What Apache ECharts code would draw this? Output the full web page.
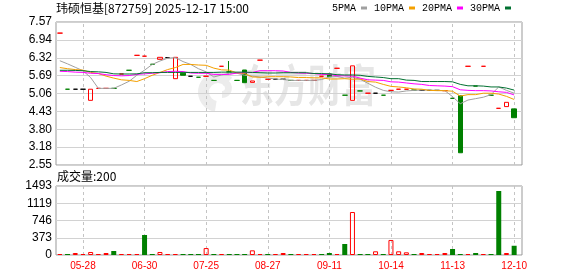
<!DOCTYPE html>
<html><head><meta charset="utf-8">
<script src="https://cdn.jsdelivr.net/npm/echarts@6/dist/echarts.min.js"></script>
<style>html,body{margin:0;padding:0;background:#fff}#c{width:578px;height:276px}</style>
</head><body><div id="c"></div>
<script>
// ---------- data ----------
const dates = ['05-15','05-20','05-23','05-28','06-03','06-06','06-11','06-16','06-19','06-24',
  '06-27','06-30','07-02','07-04','07-08','07-11','07-15','07-18','07-22','07-25',
  '07-30','08-04','08-07','08-12','08-15','08-19','08-22','08-27','08-29','09-01',
  '09-02','09-03','09-05','09-08','09-10','09-11','09-15','09-17','09-19','09-23',
  '09-26','09-30','10-10','10-14','10-17','10-21','10-24','10-28','10-31','11-05',
  '11-10','11-13','11-17','11-20','11-24','11-26','11-28','12-03','12-05','12-10'];
const xTickLabels = ['05-28','06-30','07-25','08-27','09-11','10-14','11-13','12-10'];
const priceTicks = ['2.55','3.18','3.80','4.43','5.06','5.69','6.32','6.94','7.57'];
const volTicks = ['0','373','746','1119','1493'];

const opens  = [7.18,5.21,5.21,5.21,4.82,5.24,5.24,5.24,5.745,5.875,
  6.40,6.37,6.085,6.26,6.32,5.58,5.77,5.665,5.63,5.665,
  5.52,6.015,5.82,5.52,5.885,5.45,6.23,5.56,5.56,5.56,
  5.52,5.52,5.52,5.52,5.665,5.745,5.945,5.00,4.82,5.15,
  5.07,5.07,5.00,5.17,5.21,5.21,5.18,5.17,5.17,5.17,
  5.16,4.89,4.98,6.015,5.32,6.015,5.00,4.54,4.60,4.52];
const closes = [7.18,5.21,5.21,5.21,5.21,5.24,5.24,5.24,5.745,5.875,
  6.40,6.37,6.085,6.33,6.32,6.33,5.70,5.665,5.63,5.665,
  5.52,6.015,5.82,5.52,5.44,5.50,6.23,5.56,5.56,5.56,
  5.52,5.52,5.52,5.52,5.665,5.65,5.945,5.00,6.03,5.15,
  5.07,5.07,5.00,5.17,5.21,5.21,5.18,5.17,5.17,5.17,
  5.16,4.89,2.98,6.015,5.32,6.015,5.00,4.54,4.75,4.21];
const lows   = [7.18,5.21,5.21,5.21,4.82,5.24,5.24,5.24,5.745,5.875,
  6.40,6.37,6.085,6.26,6.32,5.58,5.70,5.665,5.63,5.665,
  5.52,6.015,5.82,5.52,5.44,5.45,6.23,5.56,5.56,5.56,
  5.52,5.52,5.52,5.52,5.665,5.65,5.945,5.00,4.82,5.15,
  5.07,5.07,5.00,5.17,5.21,5.21,5.18,5.17,5.17,5.17,
  5.16,4.89,2.98,6.015,5.32,6.015,5.00,4.54,4.60,4.21];
const highs  = [7.18,5.21,5.21,5.21,5.21,5.24,5.24,5.24,5.745,5.875,
  6.40,6.37,6.085,6.33,6.32,6.33,5.77,5.665,5.63,5.665,
  5.52,6.015,6.20,5.52,5.885,5.50,6.23,5.56,5.56,5.56,
  5.52,5.52,5.52,5.52,5.665,5.745,5.945,5.00,6.03,5.15,
  5.07,5.07,5.00,5.17,5.21,5.21,5.18,5.17,5.17,5.17,
  5.16,4.89,4.98,6.015,5.32,6.015,5.00,4.54,4.75,4.52];
// u = up (red), d = down (green), f = flat (black)
const candleDir = ['u','d','f','f','u','u','u','d','u','d',
  'u','u','d','u','f','u','d','f','d','u',
  'd','u','d','d','d','u','u','u','f','f',
  'd','u','u','u','u','d','u','d','u','d',
  'u','f','d','u','u','u','d','f','f','f',
  'u','d','d','u','d','u','d','u','u','d'];
const volumes = [20,20,43,20,65,20,43,86,20,20,
  20,433,20,65,20,20,20,20,20,150,
  20,20,20,20,20,101,20,20,20,43,
  20,20,20,20,20,43,20,238,930,20,
  20,80,20,325,80,58,20,43,20,20,
  43,130,20,20,43,20,20,1385,43,200];
const volDir = ['u','d','u','u','u','u','u','d','u','u',
  'u','d','d','u','u','u','d','d','d','u',
  'd','u','d','d','d','u','u','d','u','u',
  'd','u','u','u','d','d','u','d','u','d',
  'd','u','d','u','u','u','d','u','u','u',
  'u','d','d','u','d','u','d','d','u','d'];
const ma5 = [6.21,6.10,5.98,5.86,5.62,5.24,5.24,5.24,5.36,5.49,
  5.70,5.88,6.08,6.20,6.30,6.32,6.18,6.08,5.93,5.82,
  5.64,5.71,5.77,5.77,5.70,5.67,5.64,5.60,5.57,5.55,
  5.52,5.52,5.52,5.52,5.55,5.64,5.66,5.60,5.63,5.56,
  5.42,5.28,5.17,5.12,5.11,5.15,5.17,5.18,5.18,5.17,
  5.16,4.95,4.70,4.83,4.88,4.93,5.02,5.29,5.17,5.07];
const ma10 = [5.97,5.93,5.90,5.88,5.80,5.76,5.67,5.60,5.54,5.52,
  5.48,5.58,5.70,5.80,5.90,5.97,6.08,6.08,6.06,6.05,
  5.95,5.89,5.88,5.78,5.76,5.64,5.63,5.65,5.65,5.65,
  5.64,5.62,5.62,5.61,5.61,5.57,5.57,5.58,5.56,5.57,
  5.48,5.46,5.38,5.31,5.29,5.26,5.22,5.21,5.17,5.16,
  5.16,5.14,4.97,5.02,5.02,5.07,5.07,5.04,4.96,4.85];
const ma20 = [5.84,5.83,5.81,5.80,5.77,5.76,5.72,5.69,5.68,5.69,
  5.73,5.75,5.77,5.79,5.83,5.84,5.83,5.78,5.77,5.77,
  5.73,5.73,5.73,5.78,5.79,5.80,5.86,5.86,5.86,5.85,
  5.80,5.78,5.77,5.76,5.73,5.73,5.68,5.68,5.67,5.60,
  5.54,5.53,5.52,5.47,5.46,5.43,5.40,5.38,5.34,5.33,
  5.32,5.30,5.19,5.17,5.16,5.16,5.15,5.12,5.10,5.01];
const ma30 = [5.875,5.875,5.87,5.86,5.83,5.82,5.80,5.75,5.745,5.745,
  5.75,5.79,5.79,5.80,5.80,5.80,5.80,5.80,5.80,5.80,
  5.80,5.81,5.81,5.81,5.81,5.80,5.79,5.78,5.78,5.79,
  5.79,5.79,5.79,5.76,5.76,5.75,5.72,5.71,5.71,5.70,
  5.66,5.64,5.62,5.58,5.58,5.53,5.52,5.48,5.48,5.48,
  5.48,5.47,5.38,5.33,5.33,5.32,5.29,5.29,5.25,5.18];
const lastVolume = 200;

// ---------- chart ----------
const RED = '#ff0000', GREEN = '#008000', BLACK = '#000000';
const dirColor = {u: RED, d: GREEN, f: BLACK};
const LABEL_FONT = 'Liberation Sans, Arial, sans-serif';

const candleData = dates.map((d, i) => {
  const c = dirColor[candleDir[i]];
  const fill = candleDir[i] === 'u' ? 'rgba(255,255,255,0)' : c;
  return {
    value: [opens[i], closes[i], lows[i], highs[i]],
    itemStyle: {color: fill, color0: fill, borderColor: c, borderColor0: c, borderColorDoji: c, borderWidth: 1}
  };
});
const volData = volumes.map((v, i) => {
  const up = volDir[i] === 'u';
  return {
    value: v,
    itemStyle: up ? {color: 'rgba(255,255,255,0)', borderColor: RED, borderWidth: 1}
                  : {color: GREEN, borderWidth: 0}
  };
});
const showTick = (idx, val) => xTickLabels.indexOf(val) >= 0;
function dashTicks(len) {
  return {show: true, inside: true, length: len, alignWithLabel: true, interval: showTick,
          lineStyle: {color: '#c4c4c4', type: [3, 3], width: 1}};
}

const PL = 56, PW = 466, DW = 462;
const chart = echarts.init(document.getElementById('c'), null, {renderer: 'canvas'});
chart.setOption({
  animation: false,
  backgroundColor: '#ffffff',
  textStyle: {fontFamily: LABEL_FONT},
  graphic: [
    {type: 'sector', z: 0, silent: true,
     shape: {cx: 218, cy: 92, r: 20, r0: 9, startAngle: Math.PI * 0.55, endAngle: Math.PI * 1.75},
     style: {fill: '#ececec'}},
    {type: 'sector', z: 0, silent: true,
     shape: {cx: 222, cy: 88, r: 10, r0: 3, startAngle: Math.PI * 1.6, endAngle: Math.PI * 2.5},
     style: {fill: '#ececec'}},
    {type: 'text', left: 240, top: 63, z: 0, silent: true, scaleY: 1.3,
     style: {text: '东方财富', fill: '#e6e6e6', font: 'bold 34px "Noto Sans CJK SC"'}},
    {type: 'text', left: 56, top: 2, silent: true,
     style: {text: '玮硕恒基[872759] 2025-12-17 15:00', fill: '#000', font: '12px "Noto Sans CJK SC"'}},
    {type: 'text', left: 57, top: 170, silent: true,
     style: {text: '成交量:' + lastVolume, fill: '#000', font: '12px "Noto Sans CJK SC"'}}
  ],
  legend: {
    data: ['5PMA', '10PMA', '20PMA', '30PMA'],
    top: 3, right: 67, align: 'right', icon: 'rect',
    itemWidth: 6, itemHeight: 3, itemGap: 7, padding: 0,
    textStyle: {fontSize: 10, color: '#000', fontFamily: 'Liberation Mono, monospace'},
    selectedMode: false
  },
  grid: [
    {left: PL, top: 22, width: PW, height: 143, show: true, borderColor: '#999', borderWidth: 1, backgroundColor: 'transparent'},
    {left: PL, top: 22, width: DW, height: 143},
    {left: PL, top: 186, width: PW, height: 69, show: true, borderColor: '#999', borderWidth: 1, backgroundColor: 'transparent'},
    {left: PL, top: 186, width: DW, height: 69}
  ],
  xAxis: [
    {gridIndex: 0, type: 'value', min: 0, max: 1, show: false},
    {gridIndex: 1, type: 'category', data: dates, boundaryGap: true,
     axisLine: {show: false}, axisLabel: {show: false}, splitLine: {show: false},
     axisTick: dashTicks(143)},
    {gridIndex: 2, type: 'value', min: 0, max: 1, show: false},
    {gridIndex: 3, type: 'category', data: dates, boundaryGap: true,
     axisLine: {show: false}, splitLine: {show: false},
     axisTick: dashTicks(69),
     axisLabel: {show: true, color: RED, fontSize: 10, margin: 6, hideOverlap: false, interval: showTick}}
  ],
  yAxis: [
    {gridIndex: 0, type: 'value', min: 0, max: priceTicks.length - 1, interval: 1,
     axisLine: {show: false}, axisTick: {show: false},
     axisLabel: {color: '#000', fontSize: 12, margin: 4, formatter: v => priceTicks[Math.round(v)]},
     splitLine: {show: true, lineStyle: {color: '#d2d2d2', width: 1}}},
    {gridIndex: 1, type: 'value', min: +priceTicks[0], max: +priceTicks[priceTicks.length - 1], show: false, scale: true},
    {gridIndex: 2, type: 'value', min: 0, max: volTicks.length - 1, interval: 1,
     axisLine: {show: false}, axisTick: {show: false},
     axisLabel: {color: '#000', fontSize: 12, margin: 4, formatter: v => volTicks[Math.round(v)]},
     splitLine: {show: true, lineStyle: {color: '#d2d2d2', width: 1}}},
    {gridIndex: 3, type: 'value', min: 0, max: +volTicks[volTicks.length - 1], show: false}
  ],
  series: [
    {type: 'candlestick', name: 'K', xAxisIndex: 1, yAxisIndex: 1, barWidth: 5,
     data: candleData, silent: true},
    {type: 'line', name: '5PMA', xAxisIndex: 1, yAxisIndex: 1, data: ma5, showSymbol: false,
     color: '#a0a0a0', lineStyle: {width: 1, color: '#a0a0a0'}, silent: true},
    {type: 'line', name: '10PMA', xAxisIndex: 1, yAxisIndex: 1, data: ma10, showSymbol: false,
     color: '#f4a000', lineStyle: {width: 1, color: '#f4a000'}, silent: true},
    {type: 'line', name: '20PMA', xAxisIndex: 1, yAxisIndex: 1, data: ma20, showSymbol: false,
     color: '#ff00ff', lineStyle: {width: 1, color: '#ff00ff'}, silent: true},
    {type: 'line', name: '30PMA', xAxisIndex: 1, yAxisIndex: 1, data: ma30, showSymbol: false,
     color: '#007030', lineStyle: {width: 1, color: '#007030'}, silent: true},
    {type: 'bar', name: 'VOL', xAxisIndex: 3, yAxisIndex: 3, barWidth: 5, barMinHeight: 1,
     data: volData, silent: true}
  ]
});
</script>
</body></html>
